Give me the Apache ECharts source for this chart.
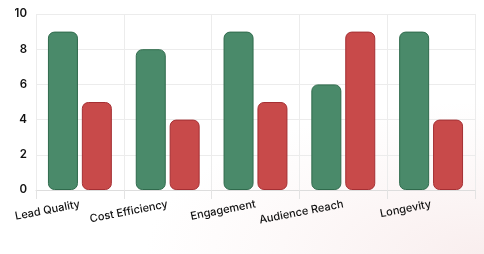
<!DOCTYPE html>
<html><head><meta charset="utf-8">
<script src="https://cdn.jsdelivr.net/npm/echarts@6/dist/echarts.min.js"></script>
<style>
html,body{margin:0;padding:0;}
#c{width:484px;height:254px;background:radial-gradient(ellipse 70% 60% at 100% 100%, #f9eeee 0%, #fdf9f9 60%, #ffffff 100%);}
</style></head>
<body><div id="c"></div>
<script>
const categories = ['Lead Quality','Cost Efficiency','Engagement','Audience Reach','Longevity'];
const seriesA = [9,8,9,6,9];
const seriesB = [5,4,5,9,4];
const yTicks = {min:0, max:10, interval:2};

const chart = echarts.init(document.getElementById('c'), null, {renderer:'canvas'});
chart.setOption({
  backgroundColor:'transparent',
  animation:false,
  grid:{left:36, right:9, top:14, bottom:64},
  xAxis:{
    type:'category', data:categories,
    axisLine:{lineStyle:{color:'#dddddd'}},
    axisTick:{show:true, length:9, lineStyle:{color:'#e3e3e3'}},
    splitLine:{show:true, lineStyle:{color:'#ececec'}},
    axisLabel:{interval:0, rotate:11, margin:14, color:'#111', fontSize:11, fontFamily:'Inter', fontWeight:500}
  },
  yAxis:{
    type:'value', min:yTicks.min, max:yTicks.max, interval:yTicks.interval,
    axisLine:{show:false}, axisTick:{show:false},
    splitLine:{lineStyle:{color:'#ececec'}},
    axisLabel:{color:'#111', fontSize:11.5, fontFamily:'Inter', fontWeight:600, margin:9}
  },
  series:[
    {type:'bar', data:seriesA, barWidth:30, barGap:'13%',
     itemStyle:{color:'#4a8a6a', borderColor:'#2f6a4c', borderWidth:1, borderRadius:6}},
    {type:'bar', data:seriesB, barWidth:30, barGap:'13%',
     itemStyle:{color:'#c84a4a', borderColor:'#a52f33', borderWidth:1, borderRadius:6}}
  ]
});
</script></body></html>
